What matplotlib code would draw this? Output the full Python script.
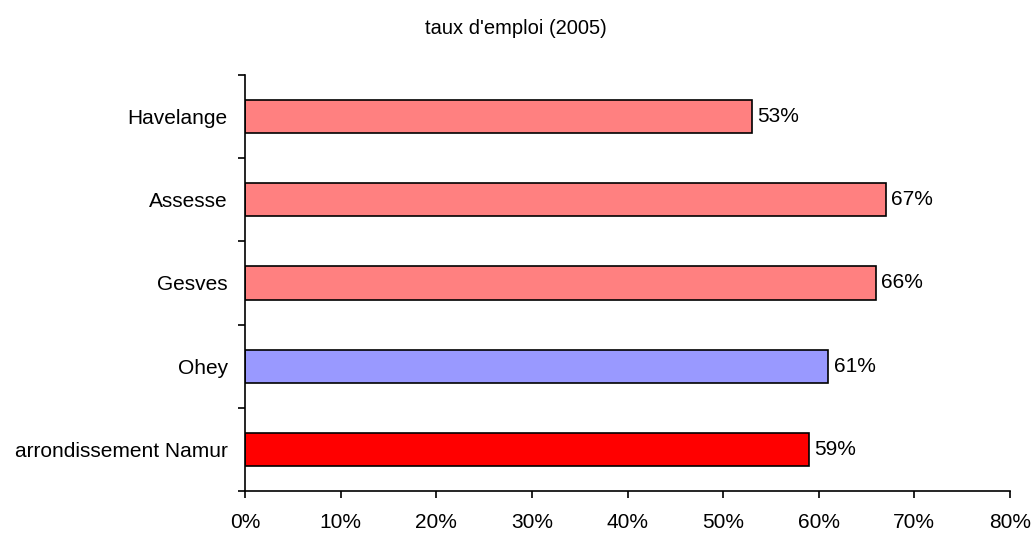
import matplotlib
matplotlib.use("Agg")
import matplotlib.pyplot as plt
import numpy as np

categories = ["Havelange", "Assesse", "Gesves", "Ohey", "arrondissement Namur"]
values = [53, 67, 66, 61, 59]
colors = ["#FF8080", "#FF8080", "#FF8080", "#9999FF", "#FF0000"]
xticks = [0, 10, 20, 30, 40, 50, 60, 70, 80]
title = "taux d'emploi (2005)"

plt.rcParams['font.family'] = ['Liberation Sans', 'DejaVu Sans']

fig = plt.figure(figsize=(10.32, 5.33), dpi=100)
ax = fig.add_axes([245/1032, 1-491/533, (1010-245)/1032, (491-75)/533])

n = len(categories)
pos = np.arange(n)[::-1]
ax.barh(pos, values, height=0.4, color=colors, edgecolor="black", linewidth=1.2)
for p, v in zip(pos, values):
    ax.text(v + 0.55, p, f"{v}%", va="center", ha="left", fontsize=15)

ax.set_xlim(0, 80)
ax.set_ylim(-0.5, n - 0.5)
ax.set_xticks(xticks)
ax.set_xticklabels([f"{t}%" for t in xticks], fontsize=15)
ax.set_yticks(np.arange(-0.5, n, 1.0))
ax.set_yticklabels([])
ax.set_yticks(pos, minor=True)
ax.set_yticklabels(categories, minor=True, fontsize=15)
ax.tick_params(axis="y", which="minor", length=0, pad=12.5)
ax.tick_params(axis="y", which="major", length=5, width=1.2, direction="out")
ax.tick_params(axis="x", length=5, width=1.2, direction="out", pad=11)
for s in ["top", "right"]:
    ax.spines[s].set_visible(False)
for s in ["left", "bottom"]:
    ax.spines[s].set_linewidth(1.2)

fig.text(0.5, 1-28/533, title, ha="center", va="center", fontsize=14.5)

fig.savefig("out.png", dpi=100)
